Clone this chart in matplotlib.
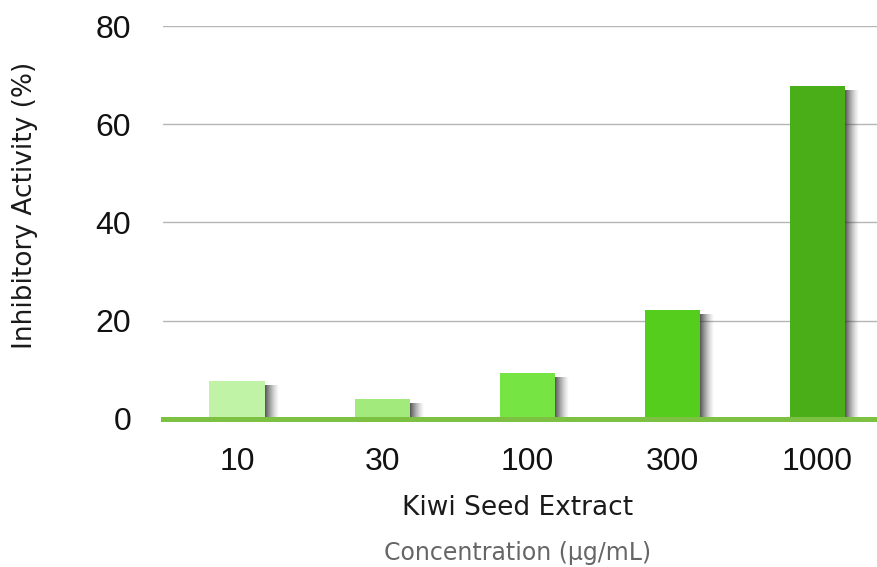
import matplotlib
matplotlib.use("Agg")
import matplotlib.pyplot as plt
from matplotlib.patches import Rectangle

# Kiwi seed extract: inhibitory activity by concentration
concentrations = ["10", "30", "100", "300", "1000"]
inhibition = [7.8, 4.0, 9.3, 22.1, 67.8]
bar_colors = ["#c1f3a6", "#a2ea7c", "#76e442", "#54cd1d", "#49ae17"]
y_ticks = [0, 20, 40, 60, 80]

fig = plt.figure(figsize=(8.77, 5.67), dpi=100)
ax = fig.add_axes([163 / 877, (567 - 419) / 567, 714 / 877, (419 - 26) / 567])

x = list(range(len(concentrations)))
bar_w = 0.38
ax.set_xlim(-0.51, 4.41)
ax.set_ylim(0, 80)

# pixel-to-data conversion for the soft drop shadows
px_x = (4.41 + 0.51) / 714
px_y = 80 / 393

for xi, val, col in zip(x, inhibition, bar_colors):
    right = xi + bar_w / 2
    top = val - 4 * px_y
    n = 14
    for k in range(n):
        a = 0.8 * (1 - k / n) ** 1.4
        ax.add_patch(Rectangle((right + k * px_x, 0), px_x, max(top, 0),
                               facecolor="#333333", edgecolor="none",
                               alpha=a, zorder=2))
    ax.bar(xi, val, width=bar_w, color=col, edgecolor="none", zorder=3)

# horizontal grid
for t in y_ticks[1:]:
    ax.axhline(t, color="#b5b5b5", linewidth=1.0, zorder=1)
ax.axhline(0, color="#7dc143", linewidth=3.6, zorder=4, clip_on=False)

for s in ax.spines.values():
    s.set_visible(False)

ax.set_yticks(y_ticks)
ax.set_yticklabels([str(t) for t in y_ticks], family="Liberation Sans",
                   fontsize=23, color="#111111")
ax.set_xticks(x)
ax.set_xticklabels(concentrations, family="Liberation Sans", fontsize=23,
                   color="#111111")
ax.tick_params(axis="y", length=0, pad=23)
ax.tick_params(axis="x", length=0, pad=20)

fig.text(25 / 877, 1 - 205 / 567, "Inhibitory Activity (%)", rotation=90,
         ha="center", va="center", family="DejaVu Sans", fontsize=19,
         color="#1a1a1a")
fig.text(518 / 877, 1 - 508 / 567, "Kiwi Seed Extract", ha="center",
         va="center", family="DejaVu Sans", fontsize=19, color="#1a1a1a")
fig.text(518 / 877, 1 - 553 / 567, "Concentration (\u00b5g/mL)", ha="center",
         va="center", family="DejaVu Sans", fontsize=17, color="#666666")

fig.savefig("out.png", dpi=100)
